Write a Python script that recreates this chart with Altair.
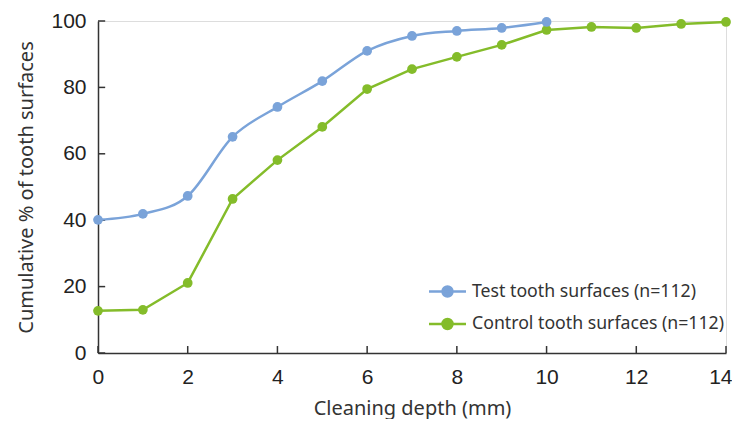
import altair as alt
import pandas as pd

depth_test = [0, 1, 2, 3, 4, 5, 6, 7, 8, 9, 10]
pct_test = [40.1, 41.9, 47.3, 65.1, 74.1, 81.9, 91.0, 95.5, 97.0, 97.9, 99.7]
depth_ctrl = [0, 1, 2, 3, 4, 5, 6, 7, 8, 9, 10, 11, 12, 13, 14]
pct_ctrl = [12.7, 13.0, 21.1, 46.4, 58.1, 68.1, 79.5, 85.5, 89.2, 92.8, 97.3, 98.2, 97.9, 99.1, 99.7]
series_names = ["Test tooth surfaces (n=112)", "Control tooth surfaces (n=112)"]
series_colors = ["#7aa3d9", "#84bc2a"]
x_ticks = [0, 2, 4, 6, 8, 10, 12, 14]
y_ticks = [0, 20, 40, 60, 80, 100]

df = pd.DataFrame(
    {"depth": depth_test, "pct": pct_test, "series": series_names[0]}
)
df = pd.concat([df, pd.DataFrame(
    {"depth": depth_ctrl, "pct": pct_ctrl, "series": series_names[1]}
)], ignore_index=True)

tick_font = "Liberation Sans"
title_font = "Noto Sans"
axis_color = "#333"

x_scale = alt.Scale(domain=[0, 14], nice=False)
y_scale = alt.Scale(domain=[0, 100], nice=False)

x_enc = alt.X("depth:Q", scale=x_scale,
              axis=alt.Axis(values=x_ticks, title="Cleaning depth (mm)", ticks=False,
                            labelFont=tick_font, labelFontSize=21, labelColor="#222",
                            labelPadding=13, labelFlush=True, labelFlushOffset=6,
                            labelBound=False,
                            titleFont=title_font, titleFontSize=20,
                            titleFontWeight="normal", titleColor="#333", titlePadding=11,
                            domainColor=axis_color, domainWidth=1.5, grid=False))
y_enc = alt.Y("pct:Q", scale=y_scale,
              axis=alt.Axis(values=y_ticks, title="Cumulative % of tooth surfaces", ticks=False,
                            labelFont=tick_font, labelFontSize=21, labelFlush=False,
                            labelColor="#222", labelPadding=12, titleFont=title_font,
                            titleFontSize=20, titleFontWeight="normal", titleColor="#333",
                            titlePadding=14, domainColor=axis_color, domainWidth=1.5, grid=False))

legend_path = "M-2,0H2M0.54,0A0.54,0.54 0 1,1 -0.54,0A0.54,0.54 0 1,1 0.54,0Z"
color_enc = alt.Color("series:N",
                      scale=alt.Scale(domain=series_names, range=series_colors),
                      legend=alt.Legend(title=None, orient="none", legendX=339, legendY=260,
                                        symbolType=legend_path, symbolSize=342,
                                        symbolStrokeWidth=2.5, labelFont=title_font,
                                        labelFontSize=17.7, labelColor="#333", labelLimit=0,
                                        rowPadding=11.5, labelOffset=14, symbolOpacity=1))

base = alt.Chart(df).encode(x=x_enc, y=y_enc, color=color_enc)
pt = alt.OverlayMarkDef(filled=True, size=95, opacity=1)
line_test = base.transform_filter(alt.datum.series == series_names[0]).mark_line(
    interpolate="cardinal", strokeWidth=2.5, point=pt)
line_ctrl = base.transform_filter(alt.datum.series == series_names[1]).mark_line(
    strokeWidth=2.5, point=pt)

xt_df = pd.DataFrame({"t": x_ticks})
xticks = alt.Chart(xt_df).mark_rule(color=axis_color, strokeWidth=1.5).encode(
    x=alt.X("t:Q", scale=x_scale), y=alt.datum(0), y2=alt.datum(2.1))
yt_df = pd.DataFrame({"t": y_ticks})
yticks = alt.Chart(yt_df).mark_rule(color=axis_color, strokeWidth=1.5).encode(
    y=alt.Y("t:Q", scale=y_scale), x=alt.datum(0), x2=alt.datum(0.16))

chart = alt.layer(xticks, yticks, line_ctrl, line_test).properties(
    width=628, height=332,
    autosize=alt.AutoSizeParams(type="none"),
    padding={"left": 90, "top": 13, "right": 6, "bottom": 66},
).configure_view(stroke=None).configure(background="white")

chart.save("out.html", embed_options={"renderer": "svg", "actions": False})
